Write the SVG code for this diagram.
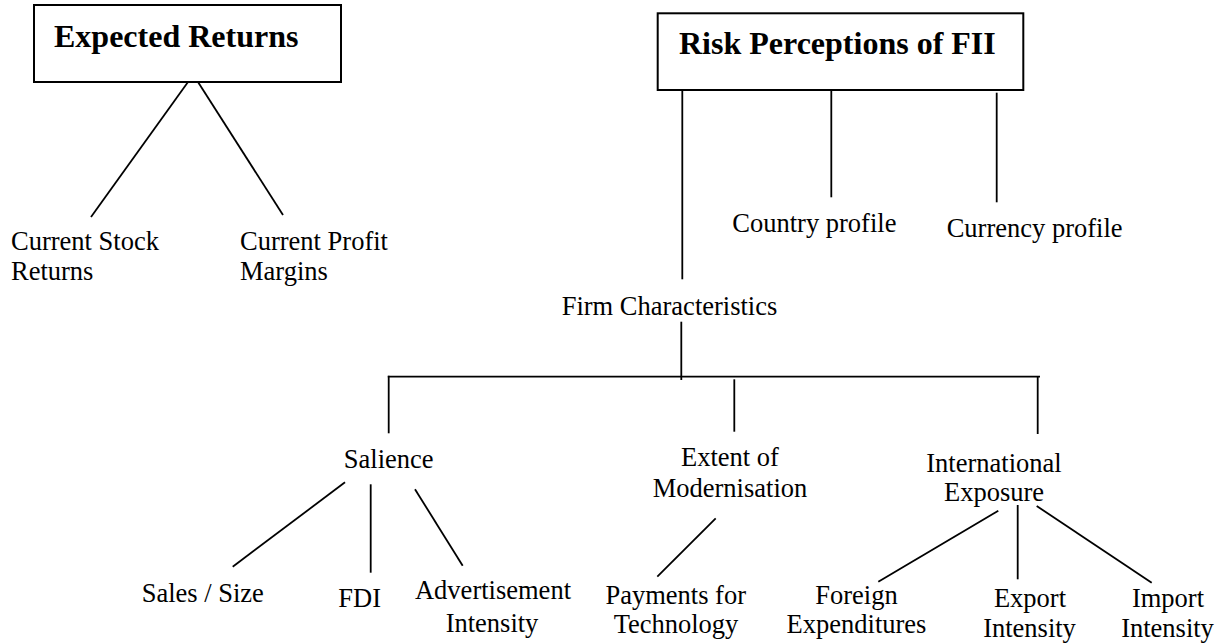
<svg xmlns="http://www.w3.org/2000/svg" width="1220" height="643" viewBox="0 0 1220 643">
<style>
.box{fill:#fff;stroke:#000;stroke-width:2}
.t{font-family:"Liberation Serif","Times New Roman",serif;font-size:26.5px;fill:#000}
.b{font-family:"Liberation Serif","Times New Roman",serif;font-size:32px;font-weight:bold;fill:#000}
.c{text-anchor:middle}
#connectors line{stroke:#000;stroke-width:1.8;stroke-linecap:butt}
</style>
<rect width="1220" height="643" fill="#fff"/>
<g id="connectors">
<line x1="188" y1="82" x2="91" y2="217"/>
<line x1="198" y1="82" x2="283" y2="215"/>
<line x1="682.3" y1="90" x2="682.3" y2="279.3"/>
<line x1="831.3" y1="90" x2="831.3" y2="197.3"/>
<line x1="996.7" y1="92.7" x2="996.7" y2="202.3"/>
<line x1="681.3" y1="321.7" x2="681.3" y2="380"/>
<line x1="387.8" y1="376.7" x2="1040" y2="376.7"/>
<line x1="388.7" y1="375.8" x2="388.7" y2="433.3"/>
<line x1="734.3" y1="379.3" x2="734.3" y2="431.7"/>
<line x1="1037.7" y1="376.7" x2="1037.7" y2="434"/>
<line x1="345" y1="482.3" x2="232.7" y2="566.7"/>
<line x1="370.7" y1="484.3" x2="370.7" y2="572.7"/>
<line x1="415" y1="489.3" x2="462.7" y2="565.7"/>
<line x1="715.7" y1="518.3" x2="657.3" y2="576.7"/>
<line x1="998.3" y1="510.7" x2="878.3" y2="581.7"/>
<line x1="1017.7" y1="505" x2="1017.7" y2="579.3"/>
<line x1="1036.7" y1="506" x2="1151.7" y2="582.7"/>
</g>
<g id="expected-returns">
<rect class="box" x="34" y="5" width="307" height="77"/>
<text class="b" x="54" y="47">Expected Returns</text>
</g>
<g id="current-stock-returns">
<text class="t" x="11" y="250">Current Stock</text>
<text class="t" x="11" y="280">Returns</text>
</g>
<g id="current-profit-margins">
<text class="t" x="240" y="250">Current Profit</text>
<text class="t" x="240" y="280">Margins</text>
</g>
<g id="risk-perceptions">
<rect class="box" x="657.7" y="13.3" width="365.6" height="76.7"/>
<text class="b" x="679" y="54">Risk Perceptions of FII</text>
</g>
<g id="country-profile">
<text class="t" x="732.3" y="232.3">Country profile</text>
</g>
<g id="currency-profile">
<text class="t" x="946.7" y="237.3">Currency profile</text>
</g>
<g id="firm-characteristics">
<text class="t" x="561.7" y="315">Firm Characteristics</text>
</g>
<g id="salience">
<text class="t c" x="388.7" y="468.3">Salience</text>
</g>
<g id="extent-of-modernisation">
<text class="t c" x="730" y="465.7">Extent of</text>
<text class="t c" x="730" y="496.7">Modernisation</text>
</g>
<g id="international-exposure">
<text class="t c" x="994" y="471.7">International</text>
<text class="t c" x="994" y="500.7">Exposure</text>
</g>
<g id="sales-size">
<text class="t c" x="202.8" y="601.7">Sales / Size</text>
</g>
<g id="fdi">
<text class="t c" x="359.7" y="607.3">FDI</text>
</g>
<g id="advertisement-intensity">
<text class="t c" x="493" y="599">Advertisement</text>
<text class="t c" x="492" y="631.7">Intensity</text>
</g>
<g id="payments-for-technology">
<text class="t c" x="675.7" y="604">Payments for</text>
<text class="t c" x="676" y="633.3">Technology</text>
</g>
<g id="foreign-expenditures">
<text class="t c" x="856.5" y="604">Foreign</text>
<text class="t c" x="856.5" y="633.3">Expenditures</text>
</g>
<g id="export-intensity">
<text class="t c" x="1030" y="606.7">Export</text>
<text class="t c" x="1029.5" y="636.7">Intensity</text>
</g>
<g id="import-intensity">
<text class="t c" x="1168" y="606.7">Import</text>
<text class="t c" x="1167.5" y="636.7">Intensity</text>
</g>
</svg>
